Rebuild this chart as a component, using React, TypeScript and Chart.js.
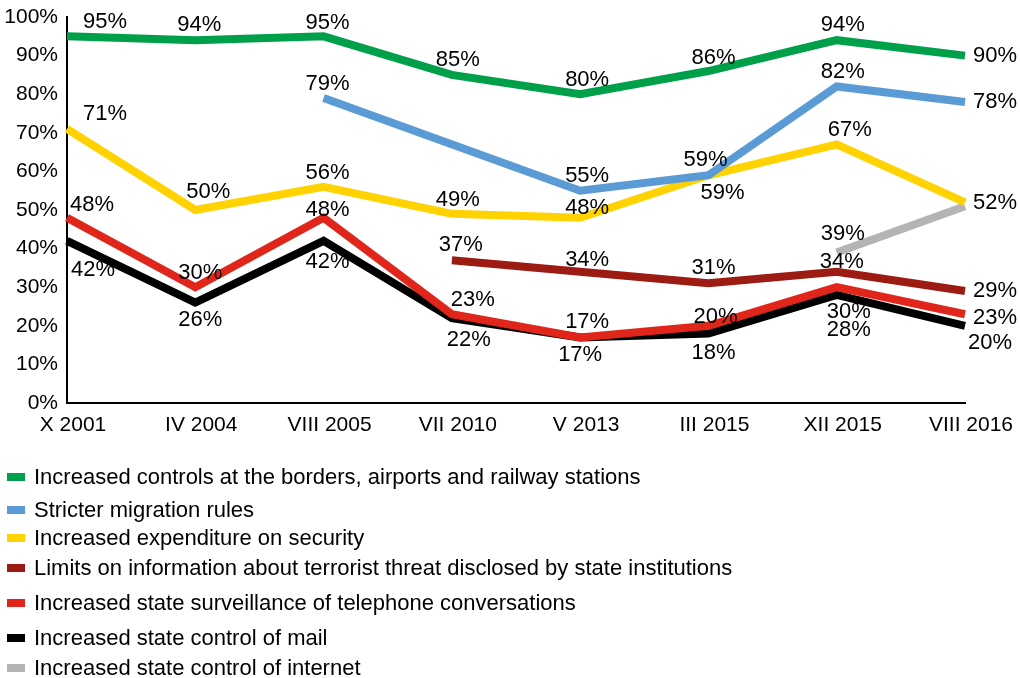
import React, { useEffect, useRef } from "react";
import { Chart, registerables } from "chart.js";

Chart.register(...registerables);

const categories = ["X 2001", "IV 2004", "VIII 2005", "VII 2010", "V 2013", "III 2015", "XII 2015", "VIII 2016"];
const yTicks = [0, 10, 20, 30, 40, 50, 60, 70, 80, 90, 100];

const seriesNames = [
  "Increased controls at the borders, airports and railway stations",
  "Stricter migration rules",
  "Increased expenditure on security",
  "Limits on information about terrorist threat disclosed by state institutions",
  "Increased state surveillance of telephone conversations",
  "Increased state control of mail",
  "Increased state control of internet",
];

const bordersControls = [95, 94, 95, 85, 80, 86, 94, 90];
const migrationRules = [null, null, 79, null, 55, 59, 82, 78];
const securityExpenditure = [71, 50, 56, 49, 48, 59, 67, 52];
const infoLimits = [null, null, null, 37, 34, 31, 34, 29];
const phoneSurveillance = [48, 30, 48, 23, 17, 20, 30, 23];
const mailControl = [42, 26, 42, 22, 17, 18, 28, 20];
const internetControl = [null, null, null, null, null, null, 39, 51];

const seriesValues = [
  bordersControls,
  migrationRules,
  securityExpenditure,
  infoLimits,
  phoneSurveillance,
  mailControl,
  internetControl,
];

const colors = ["#00A04B", "#5B9BD5", "#FFD200", "#9C1B12", "#E0261B", "#000000", "#B4B4B4"];

// label placement relative to each point (dx, dy), null = no label
const labelOffsets: (number[] | null)[][] = [
  [[38, -14], [4, -15], [4, -13], [6, -15], [7, -14], [5, -13], [6, -15], [30, 0]],
  [null, null, [4, -14], null, [7, -15], [-3, -15], [6, -15], [30, 0]],
  [[38, -15], [13, -18], [4, -14], [6, -14], [7, -10], [14, 18], [13, -14], [30, 1]],
  [null, null, null, [9, -15], [7, -12], [5, -15], [5, -10], [30, 0]],
  [[25, -13], [5, -14], [4, -8], [21, -14], [7, -15], [7, -9], [12, 25], [30, 4]],
  [[26, 29], [5, 17], [4, 21], [17, 22], [0, 18], [5, 19], [12, 35], [25, 17]],
  [null, null, null, null, null, null, [6, -19], null],
];

const legendRows = [477, 510, 538, 568, 603, 638, 668];

const FONT = '"Liberation Sans", Arial, sans-serif';

const labelsPlugin = {
  id: "pointLabels",
  afterDatasetsDraw(chart: any) {
    const ctx = chart.ctx;
    ctx.save();
    ctx.font = `22px ${FONT}`;
    ctx.fillStyle = "#000";
    ctx.textAlign = "center";
    ctx.textBaseline = "middle";
    chart.data.datasets.forEach((ds: any, i: number) => {
      const meta = chart.getDatasetMeta(i);
      ds.data.forEach((v: any, j: number) => {
        const off = labelOffsets[i][j];
        if (v === null || !off) return;
        const el = meta.data[j];
        ctx.fillText(`${v}%`, el.x + off[0], el.y + off[1]);
      });
    });
    ctx.restore();
  },
};

const legendPlugin = {
  id: "stackedLegend",
  afterDraw(chart: any) {
    const ctx = chart.ctx;
    ctx.save();
    ctx.font = `22px ${FONT}`;
    ctx.textAlign = "left";
    ctx.textBaseline = "middle";
    chart.data.datasets.forEach((ds: any, i: number) => {
      const y = legendRows[i];
      ctx.fillStyle = ds.borderColor;
      ctx.fillRect(7, y - 4, 18, 8);
      ctx.fillStyle = "#000";
      ctx.fillText(ds.label, 34, y + 1);
    });
    ctx.restore();
  },
};

export default function App() {
  const ref = useRef<HTMLCanvasElement | null>(null);

  useEffect(() => {
    if (!ref.current) return;
    const chart = new Chart(ref.current, {
      type: "line",
      data: {
        labels: categories,
        datasets: seriesValues.map((vals, i) => ({
          label: seriesNames[i],
          data: vals,
          borderColor: colors[i],
          backgroundColor: colors[i],
          borderWidth: 8,
          pointRadius: 0,
          pointHoverRadius: 0,
          tension: 0,
          spanGaps: true,
          borderJoinStyle: "miter" as const,
          borderCapStyle: "butt" as const,
          fill: false,
        })),
      },
      options: {
        animation: false,
        responsive: true,
        maintainAspectRatio: false,
        layout: { padding: { left: 0, right: 55, top: 17, bottom: 240 } },
        plugins: {
          legend: { display: false },
          tooltip: { enabled: false },
        },
        scales: {
          x: {
            offset: false,
            grid: { display: false, drawTicks: false },
            border: { display: true, color: "#000", width: 2 },
            ticks: {
              color: "#000",
              font: { family: FONT, size: 21 },
              padding: 10,
              labelOffset: 6,
              maxRotation: 0,
              autoSkip: false,
            },
            afterFit: (s: any) => {
              s.height = 35;
              s.paddingLeft = 0;
              s.paddingRight = 0;
            },
          },
          y: {
            min: 0,
            max: 100,
            afterBuildTicks: (s: any) => {
              s.ticks = yTicks.map((v) => ({ value: v }));
            },
            grid: { display: false, drawTicks: false },
            border: { display: true, color: "#000", width: 2 },
            ticks: {
              color: "#000",
              font: { family: FONT, size: 21 },
              padding: 9,
              callback: (v: any) => `${v}%`,
            },
            afterFit: (s: any) => {
              s.width = 67;
              s.paddingTop = 0;
              s.paddingBottom = 0;
            },
          },
        },
      },
      plugins: [labelsPlugin, legendPlugin],
    });
    return () => chart.destroy();
  }, []);

  return (
    <div style={{ position: "absolute", left: 0, top: 0, width: 1020, height: 678, background: "#fff" }}>
      <canvas ref={ref} />
    </div>
  );
}
